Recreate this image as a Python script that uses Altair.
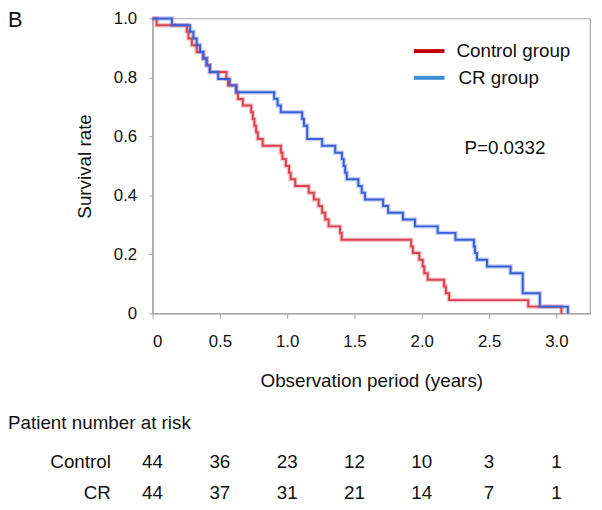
import altair as alt
import pandas as pd

# ---- data ----
ctrl_t = [0, 0.03, 0.255, 0.267, 0.292, 0.328, 0.377, 0.402, 0.426, 0.549, 0.561, 0.622,
          0.634, 0.671, 0.733, 0.745, 0.757, 0.769, 0.782, 0.818, 0.953, 0.965, 0.99,
          1.014, 1.026, 1.06, 1.16, 1.198, 1.234, 1.26, 1.283, 1.308, 1.393, 1.405,
          1.921, 1.934, 1.982, 2.007, 2.019, 2.044, 2.166, 2.179, 2.203, 2.791, 3.037]
ctrl_s = [1.0, 0.977, 0.955, 0.932, 0.909, 0.886, 0.864, 0.841, 0.818, 0.795, 0.773, 0.75,
          0.727, 0.705, 0.682, 0.659, 0.636, 0.614, 0.591, 0.568, 0.545, 0.523, 0.50,
          0.477, 0.455, 0.432, 0.409, 0.386, 0.364, 0.341, 0.318, 0.295, 0.273, 0.25,
          0.227, 0.205, 0.182, 0.159, 0.136, 0.114, 0.091, 0.068, 0.045, 0.023, 0.0]

cr_t = [0, 0.144, 0.279, 0.304, 0.328, 0.353, 0.377, 0.402, 0.426, 0.488, 0.573, 0.622,
        0.904, 0.929, 0.953, 1.112, 1.125, 1.149, 1.26, 1.357, 1.407, 1.42, 1.431, 1.443,
        1.529, 1.554, 1.578, 1.713, 1.75, 1.86, 1.95, 2.118, 2.25, 2.387, 2.395, 2.41,
        2.485, 2.66, 2.75, 2.877, 3.085]
cr_s = [1.0, 0.977, 0.955, 0.932, 0.909, 0.886, 0.864, 0.841, 0.818, 0.795, 0.773, 0.75,
        0.728, 0.705, 0.682, 0.659, 0.636, 0.591, 0.568, 0.545, 0.523, 0.50, 0.477, 0.455,
        0.432, 0.409, 0.386, 0.364, 0.341, 0.318, 0.295, 0.273, 0.25, 0.227, 0.205, 0.182,
        0.159, 0.136, 0.068, 0.023, 0.0]

groups = ["Control group", "CR group"]
curve_colors = ["#d9434f", "#3b5fd6"]
legend_colors = ["#c00000", "#3a8fd8"]

risk_times = [0, 0.5, 1.0, 1.5, 2.0, 2.5, 3.0]
risk_control = [44, 36, 23, 12, 10, 3, 1]
risk_cr = [44, 37, 31, 21, 14, 7, 1]

p_text = "P=0.0332"
FONT = "Liberation Sans"
FS = 19
TICK_FS = 17
TXT = "#111111"

rows = []
for i, (t, s) in enumerate(zip(ctrl_t, ctrl_s)):
    rows.append({"group": groups[0], "t": t, "s": s, "i": i})
for i, (t, s) in enumerate(zip(cr_t, cr_s)):
    rows.append({"group": groups[1], "t": t, "s": s, "i": i})
df = pd.DataFrame(rows)

xvals = [i * 0.25 for i in range(14)]
yvals = [i / 10 for i in range(11)]

x_enc = alt.X("t:Q", scale=alt.Scale(domain=[0, 3.25], nice=False, zero=False),
              axis=alt.Axis(values=xvals, tickSize=5, labelPadding=15, title="Observation period (years)",
                            titlePadding=23,
                            labelExpr="datum.value == 0 ? '0' : (abs(datum.value*2 - round(datum.value*2)) < 0.001 ? format(datum.value, '.1f') : '')"))
y_enc = alt.Y("s:Q", scale=alt.Scale(domain=[0, 1], nice=False),
              axis=alt.Axis(values=yvals, tickSize=4, labelPadding=12, title="Survival rate", titlePadding=19,
                            labelExpr="datum.value == 0 ? '0' : (round(datum.value*10) % 2 == 0 ? format(datum.value, '.1f') : '')"))
color_enc = alt.Color("group:N", scale=alt.Scale(domain=groups, range=curve_colors), legend=None)

halo = alt.Chart(df).mark_line(interpolate="step-after", strokeWidth=4.5, opacity=0.3, clip=False).encode(
    x=x_enc, y=y_enc, color=color_enc, detail="group:N", order="i:Q")
curves = alt.Chart(df).mark_line(interpolate="step-after", strokeWidth=2, clip=False).encode(
    x="t:Q", y="s:Q", color=color_enc, detail="group:N", order="i:Q")

one = pd.DataFrame({"a": [0]})


def txt(text, x, y, size=FS, align="center"):
    return alt.Chart(one).mark_text(font=FONT, fontSize=size, color=TXT, align=align, baseline="middle").encode(
        x=alt.value(x), y=alt.value(y), text=alt.value(text))


def legend_line(color, y):
    return alt.Chart(one).mark_rule(strokeWidth=4, color=color).encode(
        x=alt.value(264), x2=alt.value(295), y=alt.value(y))


ROW_C, ROW_R = 448, 479

layers = [halo, curves,
          legend_line(legend_colors[0], 33), legend_line(legend_colors[1], 60),
          txt(groups[0], 307, 33, align="left"), txt(groups[1], 309, 60, align="left"),
          txt(p_text, 356, 131),
          txt("B", -146, 2, size=22, align="left"),
          txt("Patient number at risk", -146, 409, align="left"),
          txt("Control", -42, ROW_C, align="right"),
          txt("CR", -42, ROW_R, align="right")]

risk_df = pd.DataFrame({"t": risk_times, "c": risk_control, "r": risk_cr})
layers.append(alt.Chart(risk_df).mark_text(font=FONT, fontSize=FS, color=TXT, baseline="middle").encode(
    x="t:Q", y=alt.value(ROW_C), text="c:Q"))
layers.append(alt.Chart(risk_df).mark_text(font=FONT, fontSize=FS, color=TXT, baseline="middle").encode(
    x="t:Q", y=alt.value(ROW_R), text="r:Q"))

chart = alt.layer(*layers).properties(
    width=442, height=298,
    autosize=alt.AutoSizeParams(type="none"),
    padding={"left": 146, "top": 8, "right": 4, "bottom": 188},
    background="white",
).configure_view(stroke="#a6a6a6", strokeWidth=1.2).configure_axis(
    grid=False, domainColor="#a6a6a6", tickColor="#a6a6a6", domainWidth=1.2,
    labelFont=FONT, labelFontSize=TICK_FS, labelColor=TXT,
    titleFont=FONT, titleFontSize=FS, titleColor=TXT, titleFontWeight="normal"
)

chart.save("out.html", embed_options={"renderer": "svg", "actions": False})
